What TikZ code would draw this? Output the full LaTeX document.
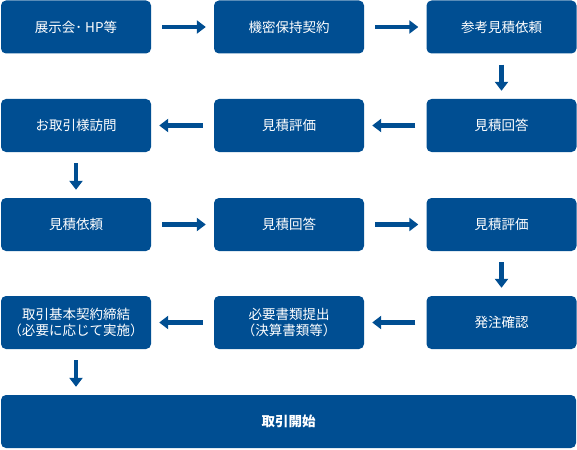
\documentclass[tikz,border=0pt]{standalone}
\usepackage{fontspec}
\setmainfont{Noto Sans CJK JP}
\usetikzlibrary{positioning,arrows.meta}
\definecolor{navy}{HTML}{004E92}

\begin{document}
\begin{tikzpicture}[x=1pt,y=-1pt, every node/.style={align=center},
  flowbox/.style={fill=navy,text=white,rounded corners=5pt,minimum width=150pt,minimum height=53pt,inner sep=2pt,font=\fontsize{13.5}{16}\selectfont},
  flowarrow/.style={-{Triangle[length=9pt,width=13pt]},line width=4.5pt,navy,shorten <=11pt,shorten >=8pt}]
\useasboundingbox (0,0) rectangle (577,449);
\node[flowbox] (a) at (76,27) {展示会･ HP等};
\node[flowbox] (b) at (289,27) {機密保持契約};
\node[flowbox] (c) at (501.5,27) {参考見積依頼};
\node[flowbox] (d) at (501.5,125.5) {見積回答};
\node[flowbox] (e) at (289,125.5) {見積評価};
\node[flowbox] (f) at (76,125.5) {お取引様訪問};
\node[flowbox] (g) at (76,224.5) {見積依頼};
\node[flowbox] (h) at (289,224.5) {見積回答};
\node[flowbox] (i) at (501.5,224.5) {見積評価};
\node[flowbox] (j) at (501.5,322.5) {発注確認};
\node[flowbox] (k) at (289,322.5) {必要書類提出\\（決算書類等）};
\node[flowbox] (l) at (76,322.5) {取引基本契約締結\\（必要に応じて実施）};
\node[flowbox,minimum width=575pt,font=\fontsize{13.5}{16}\selectfont\bfseries] (m) at (288.5,421.5) {取引開始};
\draw[flowarrow] (a)--(b);\draw[flowarrow] (b)--(c);\draw[flowarrow] (c)--(d);
\draw[flowarrow] (d)--(e);\draw[flowarrow] (e)--(f);\draw[flowarrow] (f)--(g);
\draw[flowarrow] (g)--(h);\draw[flowarrow] (h)--(i);\draw[flowarrow] (i)--(j);
\draw[flowarrow] (j)--(k);\draw[flowarrow] (k)--(l);\draw[flowarrow] (l)--(l|-m.north);
\end{tikzpicture}
\end{document}
